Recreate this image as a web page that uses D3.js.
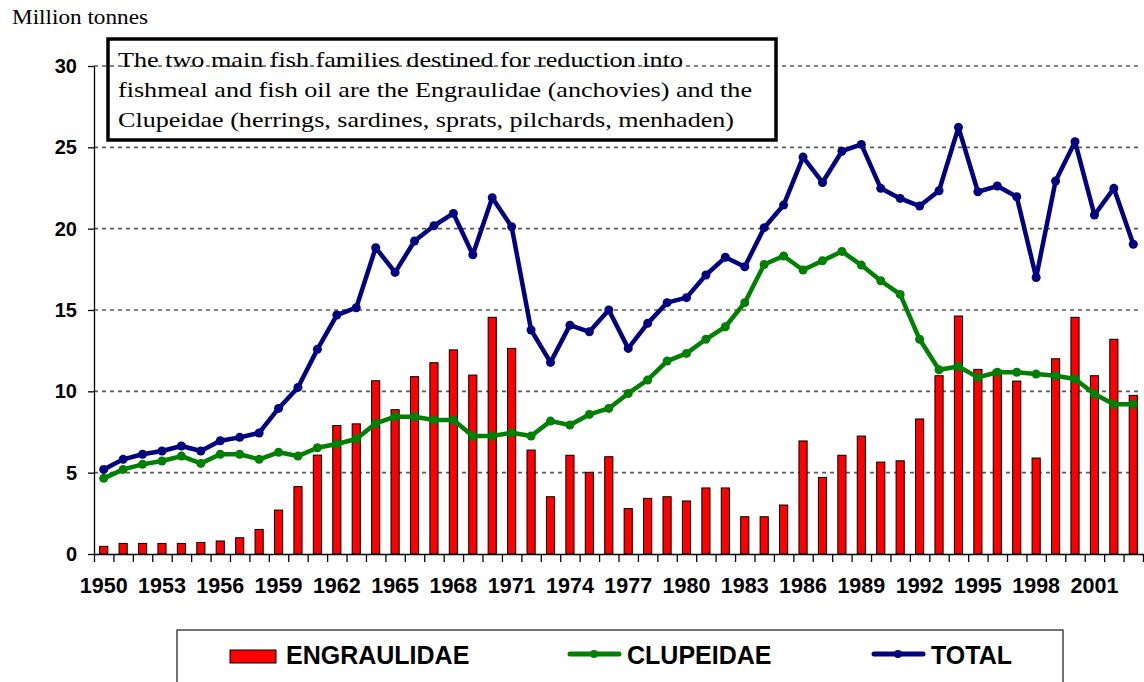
<!DOCTYPE html>
<html>
<head>
<meta charset="utf-8">
<script src="https://cdn.jsdelivr.net/npm/d3@7"></script>
<style>
  body { margin: 0; background: #fff; }
  .tick text { font-family: "Liberation Sans", Arial, sans-serif; font-weight: bold; font-size: 20px; fill: #000; }
  .x-labels .tick text { font-size: 21.5px; }
  .note { font-family: "Liberation Serif", "Times New Roman", serif; font-size: 22px; fill: #000; }
  .legend-label { font-family: "Liberation Sans", Arial, sans-serif; font-weight: bold; font-size: 25px; fill: #000; }
</style>
</head>
<body>
<div id="chart"></div>
<script>
/* Fish catch for reduction: Engraulidae, Clupeidae and total */

const years = d3.range(1950, 2004);

const engraulidae = [
  0.47, 0.65, 0.65, 0.65, 0.65, 0.71, 0.8, 1.0, 1.51, 2.7,
  4.14, 6.08, 7.9, 8.0, 10.65, 8.87, 10.9, 11.76, 12.55, 11.0,
  14.55, 12.64, 6.39, 3.52, 6.07, 5.02, 5.98, 2.79, 3.42, 3.52,
  3.26, 4.06, 4.06, 2.29, 2.29, 3.01, 6.95, 4.71, 6.07, 7.25,
  5.65, 5.73, 8.3, 10.96, 14.63, 11.35, 11.3, 10.63, 5.9, 12.0,
  14.55, 10.96, 13.2, 9.75
];

const clupeidae = [
  4.65, 5.2, 5.51, 5.72, 6.02, 5.57, 6.13, 6.13, 5.82, 6.25,
  6.02, 6.53, 6.76, 7.07, 8.03, 8.44, 8.44, 8.24, 8.24, 7.25,
  7.25, 7.45, 7.25, 8.17, 7.93, 8.58, 8.95, 9.87, 10.7, 11.86,
  12.33, 13.2, 13.97, 15.45, 17.8, 18.32, 17.46, 18.03, 18.6, 17.76,
  16.8, 15.96, 13.2, 11.33, 11.53, 10.86, 11.17, 11.17, 11.06, 10.96,
  10.76, 9.83, 9.2, 9.2
];

const total = [
  5.2, 5.82, 6.13, 6.33, 6.64, 6.33, 6.96, 7.17, 7.44, 8.95,
  10.24, 12.58, 14.69, 15.14, 18.83, 17.31, 19.24, 20.18, 20.94, 18.4,
  21.9, 20.12, 13.77, 11.78, 14.07, 13.66, 15.0, 12.64, 14.18, 15.45,
  15.76, 17.15, 18.24, 17.66, 20.06, 21.45, 24.4, 22.84, 24.76, 25.18,
  22.48, 21.86, 21.39, 22.33, 26.23, 22.27, 22.62, 21.96, 17.0, 22.93,
  25.35, 20.84, 22.48, 19.04
];

const yTicks = [0, 5, 10, 15, 20, 25, 30];
const xLabelYears = years.filter(d => (d - 1950) % 3 === 0);

// text of the note box, with the width each line takes in the picture
const noteLines = [
  "The two main fish families destined for reduction into",
  "fishmeal and fish oil are the Engraulidae (anchovies) and the",
  "Clupeidae (herrings, sardines, sprats, pilchards, menhaden)"
];
const noteWidths = [565, 634, 616];

const legendItems = [
  { key: "ENGRAULIDAE", type: "bar", color: "#ff0000", x: 230 },
  { key: "CLUPEIDAE", type: "line", color: "#008000", x: 568 },
  { key: "TOTAL", type: "line", color: "#000080", x: 872 }
];

const height = 682,
  width = 1144,
  margin = ({ top: 66, right: 1, bottom: 128, left: 94 });

const svg = d3.select("#chart")
  .append("svg")
  .attr("width", width)
  .attr("height", height)
  .attr("viewBox", [0, 0, width, height]);

const x = d3.scaleBand()
  .domain(years)
  .range([margin.left, width - margin.right]);

// linear twin of x, for ticks on the category boundaries
const xEdge = d3.scaleLinear()
  .domain([0, years.length])
  .range([margin.left, width - margin.right]);

const y = d3.scaleLinear()
  .domain([0, 30])
  .range([height - margin.bottom, margin.top]);

// dashed gridlines
svg.append("g")
  .selectAll("line")
  .data(yTicks.filter(d => d > 0))
  .join("line")
  .attr("x1", margin.left)
  .attr("x2", width - 2)
  .attr("y1", d => y(d))
  .attr("y2", d => y(d))
  .attr("stroke", "#5a5a5a")
  .attr("stroke-width", 1.6)
  .attr("stroke-dasharray", "4,4");

// bars
const barW = x.bandwidth() * 0.42;
svg.append("g")
  .selectAll("rect")
  .data(engraulidae)
  .join("rect")
  .attr("x", (d, i) => x(years[i]) + (x.bandwidth() - barW) / 2)
  .attr("y", d => y(d))
  .attr("width", barW)
  .attr("height", d => y(0) - y(d))
  .attr("fill", "#ff0000")
  .attr("stroke", "#000")
  .attr("stroke-width", 1);

// y axis
svg.append("g")
  .attr("transform", `translate(${margin.left},0)`)
  .call(d3.axisLeft(y)
    .tickValues(yTicks)
    .tickSize(6)
    .tickPadding(11)
    .tickSizeOuter(0))
  .call(g => g.select(".domain").attr("stroke", "#000").attr("stroke-width", 1.3))
  .call(g => g.selectAll(".tick line").attr("stroke", "#000").attr("stroke-width", 1.3));

// x axis: boundary ticks
svg.append("g")
  .attr("transform", `translate(0,${y(0)})`)
  .call(d3.axisBottom(xEdge)
    .tickValues(d3.range(years.length + 1))
    .tickFormat("")
    .tickSize(8)
    .tickSizeOuter(0))
  .call(g => g.select(".domain").attr("stroke", "#000").attr("stroke-width", 1.3))
  .call(g => g.selectAll(".tick line").attr("stroke", "#000").attr("stroke-width", 1.3));

// x axis: year labels
svg.append("g")
  .attr("class", "x-labels")
  .attr("transform", `translate(0,${y(0)})`)
  .call(d3.axisBottom(x)
    .tickValues(xLabelYears)
    .tickSize(0)
    .tickPadding(24))
  .call(g => g.select(".domain").remove());

// lines with markers
const line = d3.line()
  .x((d, i) => x(years[i]) + x.bandwidth() / 2)
  .y(d => y(d));

for (const [series, color] of [[clupeidae, "#008000"], [total, "#000080"]]) {
  svg.append("path")
    .datum(series)
    .attr("d", line)
    .attr("fill", "none")
    .attr("stroke", color)
    .attr("stroke-width", 4.5)
    .attr("stroke-linejoin", "round");

  svg.append("g")
    .selectAll("circle")
    .data(series)
    .join("circle")
    .attr("cx", (d, i) => x(years[i]) + x.bandwidth() / 2)
    .attr("cy", d => y(d))
    .attr("r", 4.5)
    .attr("fill", color);
}

// unit label
svg.append("text")
  .attr("class", "note")
  .attr("x", 12)
  .attr("y", 24)
  .attr("textLength", 136)
  .attr("lengthAdjust", "spacingAndGlyphs")
  .text("Million tonnes");

// note box (no fill, grid shows through)
svg.append("rect")
  .attr("x", 108)
  .attr("y", 39)
  .attr("width", 668)
  .attr("height", 101)
  .attr("fill", "none")
  .attr("stroke", "#000")
  .attr("stroke-width", 3.5);

svg.append("g")
  .selectAll("text")
  .data(noteLines)
  .join("text")
  .attr("class", "note")
  .attr("x", 118)
  .attr("y", (d, i) => 67 + i * 30)
  .attr("textLength", (d, i) => noteWidths[i])
  .attr("lengthAdjust", "spacingAndGlyphs")
  .text(d => d);

// legend
svg.append("rect")
  .attr("x", 177)
  .attr("y", 630)
  .attr("width", 886)
  .attr("height", 80)
  .attr("fill", "none")
  .attr("stroke", "#444")
  .attr("stroke-width", 1.5);

const legend = svg.append("g")
  .selectAll("g")
  .data(legendItems)
  .join("g")
  .attr("transform", d => `translate(${d.x},656)`);

legend.filter(d => d.type === "bar")
  .append("rect")
  .attr("y", -6)
  .attr("width", 46)
  .attr("height", 13)
  .attr("fill", d => d.color)
  .attr("stroke", "#000")
  .attr("stroke-width", 1);

legend.filter(d => d.type === "line")
  .append("line")
  .attr("x1", 2)
  .attr("x2", 51)
  .attr("y1", -2)
  .attr("y2", -2)
  .attr("stroke", d => d.color)
  .attr("stroke-width", 5)
  .attr("stroke-linecap", "round");

legend.filter(d => d.type === "line")
  .append("circle")
  .attr("cx", 26)
  .attr("cy", -2)
  .attr("r", 4)
  .attr("fill", d => d.color);

legend.append("text")
  .attr("class", "legend-label")
  .attr("x", d => d.type === "bar" ? 56 : 59)
  .attr("y", 8)
  .text(d => d.key);
</script>
</body>
</html>
